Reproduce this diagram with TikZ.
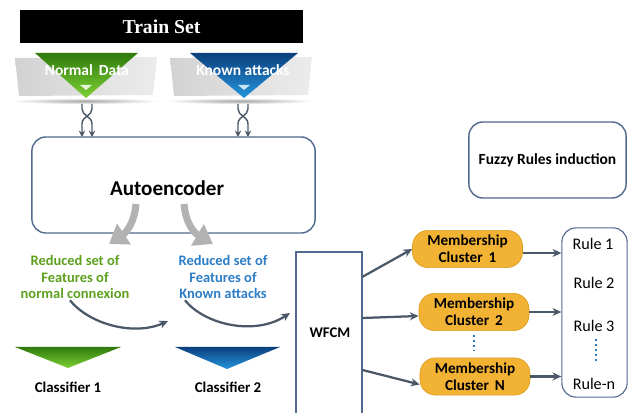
\documentclass[tikz,border=0pt]{standalone}
\usepackage{fontspec}
\setmainfont{Carlito}
\newfontfamily\titlefont{Liberation Serif}
\usepackage{xcolor}
\usetikzlibrary{arrows.meta,positioning,shapes.geometric,calc}
\definecolor{frame2}{HTML}{51698E}
\definecolor{arrow2}{HTML}{4A5868}
\definecolor{green2}{HTML}{5DA01E}
\definecolor{greenD}{HTML}{2F7A0C}
\definecolor{greenL}{HTML}{7DD134}
\definecolor{blue2}{HTML}{2C7DC6}
\definecolor{blueD}{HTML}{0B3F7E}
\definecolor{blueL}{HTML}{2596DC}
\definecolor{orange2}{HTML}{F2B233}
\definecolor{orangeD}{HTML}{D99A1E}

\begin{document}
\begin{tikzpicture}[
        x=0.025cm,y=-0.025cm,
        font=\bfseries,
        trainbox/.style={fill=black,text=white,minimum width=7.08cm,minimum height=0.83cm,
                         font=\titlefont\bfseries\fontsize{14}{16}\selectfont},
        roundbox/.style={draw=frame2,line width=1pt,rounded corners=10pt,fill=white},
        clubox/.style={draw=orangeD,fill=orange2,rounded corners=11pt,align=center,
                       minimum width=2.75cm,minimum height=0.93cm,
                       font=\bfseries\fontsize{10.8}{12}\selectfont},
        redtext/.style={align=center,font=\bfseries\fontsize{10.3}{11.5}\selectfont},
        ruletext/.style={font=\fontsize{11.5}{12}\selectfont},
        arr/.style={-{Stealth[length=2.2mm,width=2mm]}, line width=1.6pt, draw=arrow2},
        twist/.style={-{Stealth[length=1.6mm,width=1.6mm]}, line width=1pt, draw=arrow2},
        fatarr/.style={-{Triangle[length=4.5mm,width=6mm]}, line width=5pt, draw=gray!60},
        dotline/.style={dotted, line width=1.6pt, draw=blue2}
    ]
      \useasboundingbox (0,0) rectangle (634,413);

      % train set header
      \node[trainbox] (train) at (161.5,26.5) {Train Set};

      % grey bands with their soft shadows
      \foreach \xo in {0,155} {
        \shade[inner color=gray!70,outer color=white] (85+\xo,101) ellipse (75 and 3);
        \shade[left color=gray!35,right color=gray!15]
          (15+\xo,58) -- (157+\xo,57) -- (153+\xo,95) -- (19+\xo,96) -- cycle;
      }

      % data triangles
      \shade[top color=greenD,bottom color=greenL] (35,53) -- (138,53) -- (86,98) -- cycle;
      \fill[white!80!greenL] (80,85) -- (92,85) -- (86,90) -- cycle;
      \shade[top color=blueD,bottom color=blueL] (190,53) -- (298,53) -- (244,98) -- cycle;
      \fill[white!75!blueL] (238,85) -- (250,85) -- (244,90) -- cycle;
      \node[text=white,font=\bfseries\fontsize{11}{12}\selectfont] (normal) at (87,70) {Normal\, Data};
      \node[text=white,font=\bfseries\fontsize{11}{12}\selectfont] (known) at (243,70) {Known attacks};

      % autoencoder block
      \node[roundbox,minimum width=7.08cm,minimum height=2.4cm] (enc) at (173.5,185) {};
      \node[font=\bfseries\fontsize{15}{17}\selectfont] (enctext) at (167,188) {Autoencoder};

      % braided inputs
      \foreach \cx/\nm in {87/na,243/ka} {
        \coordinate (\nm1) at (\cx-5,104);
        \coordinate (\nm2) at (\cx+5,104);
        \draw[twist] (\nm1) -- (\cx-5,109) .. controls (\cx-5,116) and (\cx+5,116) .. (\cx+5,124) -- (\cx+5,137);
        \draw[twist] (\nm2) -- (\cx+5,109) .. controls (\cx+5,116) and (\cx-5,116) .. (\cx-5,124) -- (\cx-5,137);
      }

      % outputs of the encoder
      \coordinate (outL) at (136,204);
      \coordinate (outR) at (184,204);
      \draw[fatarr] (outL) .. controls (134,226) and (124,234) .. (109,244);
      \draw[fatarr] (outR) .. controls (186,226) and (196,234) .. (213,244);

      \node[redtext,text=green2] (rednorm) at (75,277) {Reduced set of\\Features of\\normal connexion};
      \node[redtext,text=blue2] (redknown) at (223,277) {Reduced set of\\Features of\\Known attacks};

      % classifier triangles
      \shade[top color=greenD,bottom color=greenL] (15,347) -- (121,347) -- (68,368) -- cycle;
      \shade[top color=blueD,bottom color=blueL] (175,347) -- (280,347) -- (227,369) -- cycle;
      \node[font=\bfseries\fontsize{10.6}{11}\selectfont] (cls1) at (68,387) {Classifier 1};
      \node[font=\bfseries\fontsize{10.6}{11}\selectfont] (cls2) at (228,387) {Classifier 2};

      % clustering and rules
      \node[draw=frame2,line width=0.8pt,fill=white,minimum width=1.65cm,minimum height=4.2cm] (wfcm) at (329,336) {};
      \node[font=\bfseries\fontsize{10.5}{11}\selectfont] (wfcmtext) at (330,333) {WFCM};

      \coordinate (bendA) at (168,321);
      \coordinate (bendB) at (290,313);
      \draw[arr] ($(rednorm.south)+(-5,-3)$) .. controls (90,325) and (135,336) .. (bendA);
      \draw[arr] ($(redknown.south)+(-38,-3)$) .. controls (205,325) and (255,336) .. (bendB);

      \node[roundbox,minimum width=3.93cm,minimum height=1.9cm] (fuzzy) at (547.5,160)
        {\fontsize{11}{12}\selectfont Fuzzy Rules induction};

      \node[clubox] (c1) at (467.5,249) {Membership\\Cluster \,1};
      \node[clubox] (c2) at (474,312) {Membership\\Cluster \,2};
      \node[clubox] (cn) at (475,376.5) {Membership\\Cluster \,N};
      \draw[dotline] (c2.south) ++(0,4) -- ++(0,16);

      \node[roundbox,line width=0.8pt,minimum width=1.63cm,minimum height=4.23cm] (rules) at (594.5,312.5) {};
      \node[ruletext] (r1) at (593,244) {Rule 1};
      \node[ruletext] (r2) at (594,283) {Rule 2};
      \node[ruletext] (r3) at (594,326) {Rule 3};
      \node[ruletext] (rn) at (594,384) {Rule-n};
      \draw[dotline] (r3.south) ++(2,2) -- ++(0,24);

      \draw[arr] ([yshift=1.48cm]wfcm.east) -- (c1.west);
      \draw[arr] ([yshift=0.45cm]wfcm.east) -- ([yshift=-0.1cm]c2.west);
      \draw[arr] ([yshift=-0.85cm]wfcm.east) -- ([yshift=-0.2cm]cn.west);

      \draw[arr] ([yshift=-0.1cm]c1.east) -- ([yshift=-0.1cm]c1.east -| rules.west);
      \draw[arr] (c2.east) -- (c2.east -| rules.west);
      \draw[arr] (cn.east) -- (cn.east -| rules.west);
    \end{tikzpicture}
\end{document}
